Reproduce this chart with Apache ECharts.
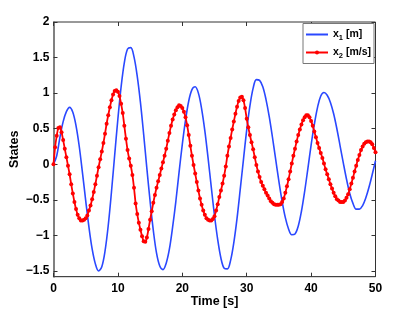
<!DOCTYPE html>
<html>
<head>
<meta charset="utf-8">
<script src="https://cdn.jsdelivr.net/npm/echarts@6/dist/echarts.min.js"></script>
<style>
html,body{margin:0;padding:0;background:#fff;}
#chart{width:415px;height:312px;}
</style>
</head>
<body>
<div id="chart"></div>
<script>
// Sampling steps (s) of the two state traces
const stepX1 = 0.5;
const stepX2 = 0.25;

// x1 [m], sampled every 0.5 s from t = 0 to 50
const x1Values = [
  0.00, 0.12, 0.38, 0.60, 0.74, 0.80, 0.73, 0.54, 0.25, -0.12,
  -0.51, -0.88, -1.19, -1.40, -1.50, -1.44, -1.22, -0.86, -0.39, 0.13,
  0.64, 1.09, 1.43, 1.62, 1.64, 1.51, 1.24, 0.87, 0.42, -0.06,
  -0.52, -0.93, -1.25, -1.43, -1.48, -1.39, -1.19, -0.88, -0.52, -0.11,
  0.28, 0.62, 0.89, 1.05, 1.09, 1.00, 0.78, 0.47, 0.09, -0.32,
  -0.72, -1.06, -1.32, -1.46, -1.47, -1.35, -1.10, -0.76, -0.35, 0.07,
  0.48, 0.82, 1.07, 1.19, 1.18, 1.09, 0.91, 0.67, 0.38, 0.07,
  -0.24, -0.52, -0.75, -0.91, -0.99, -0.98, -0.87, -0.66, -0.38, -0.06,
  0.27, 0.56, 0.80, 0.96, 1.01, 0.97, 0.87, 0.71, 0.50, 0.26,
  0.02, -0.21, -0.41, -0.55, -0.63, -0.63, -0.58, -0.47, -0.32, -0.14,
  0.05
];

// x2 [m/s], sampled every 0.25 s from t = 0 to 50
const x2Values = [
  0.00, 0.24, 0.40, 0.51, 0.52, 0.45, 0.34, 0.22, 0.10, -0.02,
  -0.14, -0.28, -0.41, -0.53, -0.63, -0.71, -0.76, -0.79, -0.79, -0.78,
  -0.76, -0.72, -0.65, -0.58, -0.49, -0.39, -0.28, -0.16, -0.04, 0.07,
  0.18, 0.30, 0.43, 0.57, 0.69, 0.80, 0.90, 0.98, 1.03, 1.04,
  1.02, 0.96, 0.85, 0.72, 0.54, 0.36, 0.20, 0.08, -0.02, -0.15,
  -0.33, -0.55, -0.70, -0.82, -0.92, -1.01, -1.08, -1.09, -1.03, -0.91,
  -0.78, -0.66, -0.54, -0.43, -0.33, -0.24, -0.15, -0.06, 0.03, 0.12,
  0.22, 0.33, 0.44, 0.54, 0.63, 0.70, 0.76, 0.80, 0.83, 0.82,
  0.79, 0.74, 0.66, 0.55, 0.41, 0.26, 0.12, -0.01, -0.13, -0.25,
  -0.37, -0.48, -0.57, -0.65, -0.71, -0.76, -0.78, -0.79, -0.79, -0.77,
  -0.73, -0.65, -0.56, -0.46, -0.37, -0.27, -0.16, -0.03, 0.12, 0.25,
  0.37, 0.49, 0.60, 0.71, 0.81, 0.89, 0.94, 0.95, 0.90, 0.79,
  0.64, 0.52, 0.41, 0.31, 0.21, 0.10, -0.01, -0.10, -0.18, -0.25,
  -0.30, -0.35, -0.40, -0.44, -0.48, -0.52, -0.54, -0.56, -0.57, -0.57,
  -0.57, -0.56, -0.53, -0.48, -0.40, -0.31, -0.21, -0.10, 0.01, 0.12,
  0.22, 0.32, 0.41, 0.49, 0.56, 0.62, 0.66, 0.69, 0.69, 0.66,
  0.61, 0.54, 0.46, 0.38, 0.30, 0.23, 0.16, 0.09, 0.01, -0.07,
  -0.14, -0.21, -0.28, -0.34, -0.40, -0.45, -0.49, -0.51, -0.53, -0.53,
  -0.53, -0.51, -0.47, -0.42, -0.35, -0.27, -0.19, -0.10, -0.02, 0.06,
  0.13, 0.20, 0.25, 0.29, 0.31, 0.32, 0.32, 0.31, 0.28, 0.23,
  0.17
];

// Tick labels
const xTicks = [0, 10, 20, 30, 40, 50];
const yTicks = [-1.5, -1, -0.5, 0, 0.5, 1, 1.5, 2];

const seriesNames = ['x1', 'x2'];
const legendText = { x1: 'x{s|1} [m]', x2: 'x{s|2} [m/s]' };

const x1Data = x1Values.map((v, i) => [i * stepX1, v]);
const x2Data = x2Values.map((v, i) => [i * stepX2, v]);

const FONT = '"Liberation Sans", Arial, Helvetica, sans-serif';
const fmt = v => String(v).replace('-', '\u2212');

const chart = echarts.init(document.getElementById('chart'), null, { renderer: 'canvas' });

const tickStyle = { show: true, inside: true, length: 4, lineStyle: { color: '#333', width: 1 } };

chart.setOption({
  animation: false,
  backgroundColor: '#fff',
  grid: {
    left: 53.5, right: 39.5, top: 22, bottom: 35.3,
    containLabel: false, outerBoundsMode: 'none',
    show: true, borderColor: '#333', borderWidth: 1, backgroundColor: '#fff'
  },
  legend: {
    data: [
      { name: 'x1', itemStyle: { opacity: 0 } },
      { name: 'x2' }
    ],
    orient: 'vertical',
    left: 303,
    top: 23.5,
    itemWidth: 22,
    itemHeight: 5,
    itemGap: 4,
    padding: [4, 3, 4, 2],
    borderColor: '#777',
    borderWidth: 1,
    backgroundColor: '#fff',
    formatter: name => legendText[name],
    textStyle: {
      fontFamily: FONT, fontWeight: 'bold', fontSize: 10.5, color: '#000', lineHeight: 14,
      rich: { s: { fontFamily: FONT, fontWeight: 'bold', fontSize: 7.5, lineHeight: 8, verticalAlign: 'bottom', color: '#000' } }
    }
  },
  xAxis: [
    {
      type: 'value', min: 0, max: 50, interval: 10,
      name: 'Time [s]', nameLocation: 'middle', nameGap: 18, nameMoveOverlap: false,
      nameTextStyle: { fontFamily: FONT, fontWeight: 'bold', fontSize: 12.5, color: '#000' },
      axisLine: { show: true, onZero: false, lineStyle: { color: '#444', width: 1.2 } },
      axisTick: tickStyle,
      axisLabel: { fontFamily: FONT, fontWeight: 'bold', fontSize: 12, color: '#000', margin: 6, customValues: xTicks },
      splitLine: { show: false }
    },
    {
      type: 'value', min: 0, max: 50, interval: 10, position: 'top',
      axisLine: { show: false, onZero: false }, axisTick: tickStyle, axisLabel: { show: false }, splitLine: { show: false }
    }
  ],
  yAxis: [
    {
      type: 'value', min: -1.58, max: 2,
      name: 'States', nameLocation: 'middle', nameGap: 32, nameRotate: 90, nameMoveOverlap: false,
      nameTextStyle: { fontFamily: FONT, fontWeight: 'bold', fontSize: 12.5, color: '#000' },
      axisLine: { show: true, onZero: false, lineStyle: { color: '#808080', width: 2 } },
      axisTick: Object.assign({}, tickStyle, { customValues: yTicks }),
      axisLabel: { fontFamily: FONT, fontWeight: 'bold', fontSize: 12, color: '#000', margin: 4, customValues: yTicks, formatter: fmt },
      splitLine: { show: false }
    },
    {
      type: 'value', min: -1.58, max: 2, position: 'right',
      axisLine: { show: false, onZero: false },
      axisTick: Object.assign({}, tickStyle, { customValues: yTicks }),
      axisLabel: { show: false }, splitLine: { show: false }
    }
  ],
  series: [
    {
      name: 'x1', type: 'line', data: x1Data, smooth: 0.35,
      showSymbol: false, symbol: 'none',
      lineStyle: { color: '#2a48ff', width: 1.6 },
      itemStyle: { color: '#2a48ff' },
      z: 2
    },
    {
      name: 'x2', type: 'line', data: x2Data, smooth: 0.3,
      symbol: 'circle', symbolSize: 4, showSymbol: true,
      lineStyle: { color: '#ff0000', width: 1.8 },
      itemStyle: { color: '#ff0000' },
      z: 3
    }
  ]
});
</script>
</body>
</html>
